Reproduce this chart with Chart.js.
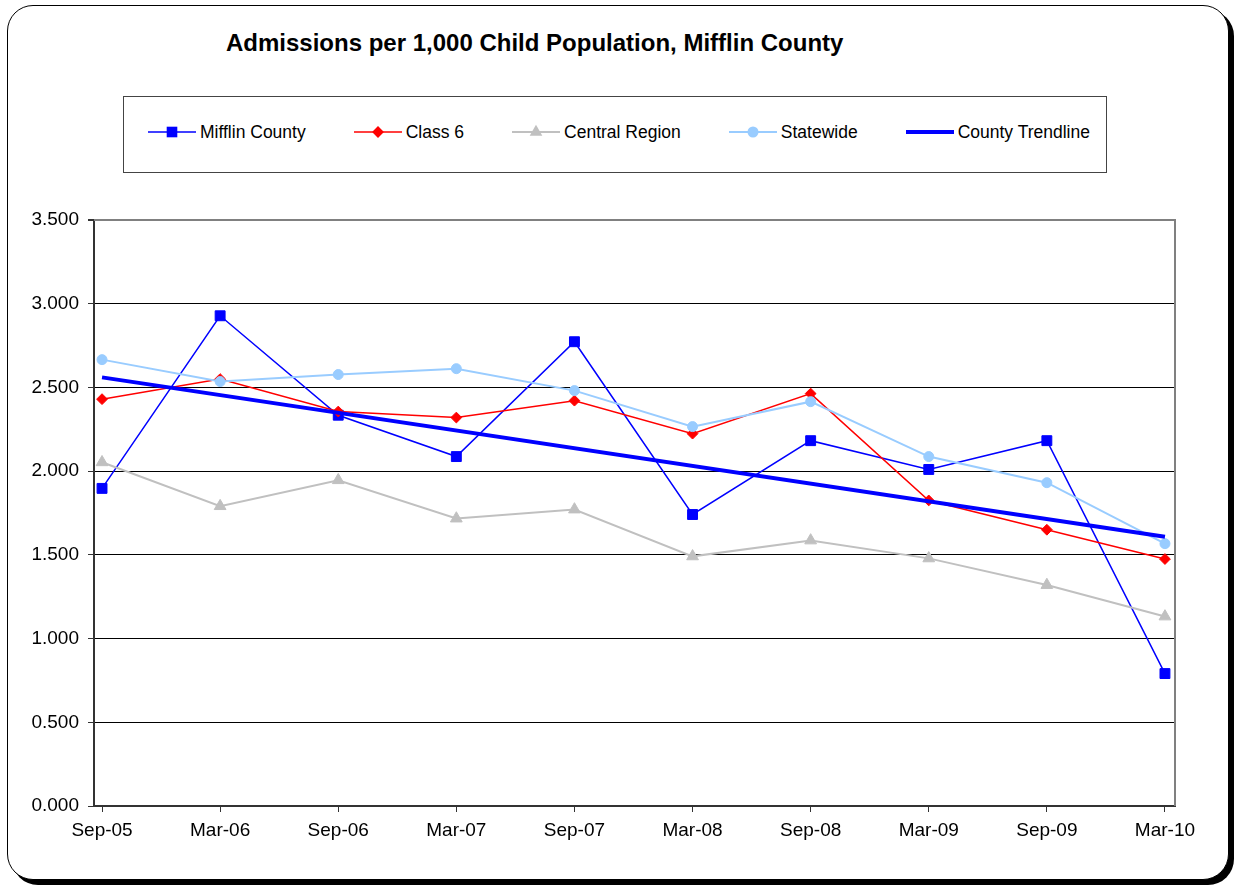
<!DOCTYPE html>
<html>
<head>
<meta charset="utf-8">
<script src="https://cdn.jsdelivr.net/npm/chart.js@4.4.0/dist/chart.umd.min.js"></script>
<style>
html,body{margin:0;padding:0;background:#fff;}
body{width:1235px;height:886px;position:relative;overflow:hidden;font-family:"Liberation Sans",Arial,sans-serif;}
#frame{position:absolute;left:7px;top:5px;width:1222px;height:875px;border:1.5px solid #000;border-radius:26px;box-shadow:5px 5px 0 #000;background:#fff;box-sizing:border-box;}
#title{position:absolute;left:226px;top:28px;font-weight:bold;font-size:24px;line-height:30px;white-space:nowrap;color:#000;}
#legend{position:absolute;left:123px;top:96px;width:984px;height:77px;border:1.5px solid #444;box-sizing:border-box;display:flex;align-items:center;padding-left:24px;padding-bottom:5px;gap:48px;background:#fff;}
.item{display:flex;align-items:center;font-size:17.5px;white-space:nowrap;color:#000;}
.item canvas{margin-right:4px;}
#c{position:absolute;left:0;top:0;}
</style>
</head>
<body>
<div id="frame"></div>
<div id="title">Admissions per 1,000 Child Population, Mifflin County</div>
<canvas id="c" width="1235" height="886"></canvas>
<div id="legend"></div>
<script>
const categories = ['Sep-05','Mar-06','Sep-06','Mar-07','Sep-07','Mar-08','Sep-08','Mar-09','Sep-09','Mar-10'];
const mifflinCounty = [1.897, 2.928, 2.334, 2.087, 2.773, 1.741, 2.182, 2.010, 2.182, 0.791];
const class6 = [2.430, 2.550, 2.356, 2.320, 2.421, 2.224, 2.463, 1.825, 1.650, 1.475];
const centralRegion = [2.053, 1.791, 1.946, 1.717, 1.771, 1.491, 1.586, 1.479, 1.320, 1.132];
const statewide = [2.666, 2.535, 2.577, 2.612, 2.481, 2.266, 2.415, 2.087, 1.931, 1.567];
const countyTrendline = [2.560, null, null, null, null, null, null, null, null, 1.608];
const yTicks = { min: 0, max: 3.5, step: 0.5 };

const toPoints = arr => arr.map((y, i) => ({ x: i, y: y }));
const FONT = '"Liberation Sans", Arial, sans-serif';

const plotBorder = {
  id: 'plotBorder',
  beforeDatasetsDraw(chart) {
    const a = chart.chartArea, ctx = chart.ctx;
    ctx.save();
    ctx.strokeStyle = '#808080';
    ctx.lineWidth = 2;
    ctx.beginPath();
    ctx.moveTo(a.left, a.top);
    ctx.lineTo(a.right, a.top);
    ctx.lineTo(a.right, a.bottom);
    ctx.stroke();
    ctx.restore();
  }
};

const chart = new Chart(document.getElementById('c'), {
  type: 'line',
  data: {
    datasets: [
      { label: 'Mifflin County', data: toPoints(mifflinCounty), borderColor: '#0000FF', backgroundColor: '#0000FF',
        borderWidth: 1.5, pointStyle: 'rect', pointRadius: 7, pointBackgroundColor: '#0000FF', pointBorderColor: '#0000FF', pointBorderWidth: 1, order: 5 },
      { label: 'Class 6', data: toPoints(class6), borderColor: '#FF0000', backgroundColor: '#FF0000',
        borderWidth: 1.5, pointStyle: 'rectRot', pointRadius: 5.4, pointBackgroundColor: '#FF0000', pointBorderColor: '#FF0000', pointBorderWidth: 1, order: 4 },
      { label: 'Central Region', data: toPoints(centralRegion), borderColor: '#C0C0C0', backgroundColor: '#C0C0C0',
        borderWidth: 2, pointStyle: 'triangle', pointRadius: 6.8, pointBackgroundColor: '#C0C0C0', pointBorderColor: '#C0C0C0', pointBorderWidth: 1, order: 3 },
      { label: 'Statewide', data: toPoints(statewide), borderColor: '#99CCFF', backgroundColor: '#99CCFF',
        borderWidth: 2, pointStyle: 'circle', pointRadius: 5, pointBackgroundColor: '#99CCFF', pointBorderColor: '#99CCFF', pointBorderWidth: 1, order: 2 },
      { label: 'County Trendline', data: toPoints(countyTrendline), borderColor: '#0000FF', backgroundColor: '#0000FF',
        borderWidth: 4, pointRadius: 0, spanGaps: true, order: 1 }
    ]
  },
  options: {
    responsive: false,
    animation: false,
    layout: { padding: { top: 220, right: 60, bottom: 0, left: 0 } },
    plugins: { legend: { display: false }, title: { display: false }, tooltip: { enabled: false } },
    scales: {
      x: {
        type: 'linear', min: -0.068, max: 9.085,
        afterFit(s) { s.height = 80; },
        ticks: { stepSize: 1, includeBounds: false, autoSkip: false, maxRotation: 0, padding: 7, color: '#000',
                 font: { size: 19, family: FONT }, callback: v => (Number.isInteger(v) ? categories[v] : '') },
        grid: { drawOnChartArea: false, tickLength: 6, color: '#333' },
        border: { color: '#333', width: 2 }
      },
      y: {
        min: yTicks.min, max: yTicks.max,
        afterFit(s) { s.width = 94; },
        ticks: { stepSize: yTicks.step, padding: 9, color: '#000', font: { size: 19, family: FONT },
                 callback: v => Number(v).toFixed(3) },
        grid: { color: c => (c.tick && c.tick.value === yTicks.max ? '#808080' : '#000'),
                lineWidth: c => (c.tick && c.tick.value === yTicks.max ? 2 : 1),
                tickLength: 6, tickColor: '#333' },
        border: { color: '#333', width: 2 }
      }
    }
  },
  plugins: [plotBorder]
});

// HTML legend
function drawMarker(g, style, x, y, r, color) {
  g.fillStyle = color;
  g.beginPath();
  if (style === 'rect') {
    const s = r * Math.SQRT1_2;
    g.rect(x - s, y - s, 2 * s, 2 * s);
  } else if (style === 'rectRot') {
    g.moveTo(x, y - r); g.lineTo(x + r, y); g.lineTo(x, y + r); g.lineTo(x - r, y); g.closePath();
  } else if (style === 'triangle') {
    g.moveTo(x, y - r); g.lineTo(x + r * 0.866, y + r * 0.5); g.lineTo(x - r * 0.866, y + r * 0.5); g.closePath();
  } else if (style === 'circle') {
    g.arc(x, y, r, 0, Math.PI * 2);
  }
  g.fill();
}
const leg = document.getElementById('legend');
chart.data.datasets.forEach(ds => {
  const item = document.createElement('div');
  item.className = 'item';
  const cv = document.createElement('canvas');
  cv.width = 48; cv.height = 20;
  const g = cv.getContext('2d');
  g.strokeStyle = ds.borderColor;
  g.lineWidth = ds.borderWidth;
  g.beginPath(); g.moveTo(0, 10); g.lineTo(48, 10); g.stroke();
  if (ds.pointRadius > 0) drawMarker(g, ds.pointStyle, 24, 10, ds.pointRadius + 0.5, ds.pointBackgroundColor);
  const sp = document.createElement('span');
  sp.textContent = ds.label;
  item.appendChild(cv);
  item.appendChild(sp);
  leg.appendChild(item);
});
</script>
</body>
</html>
